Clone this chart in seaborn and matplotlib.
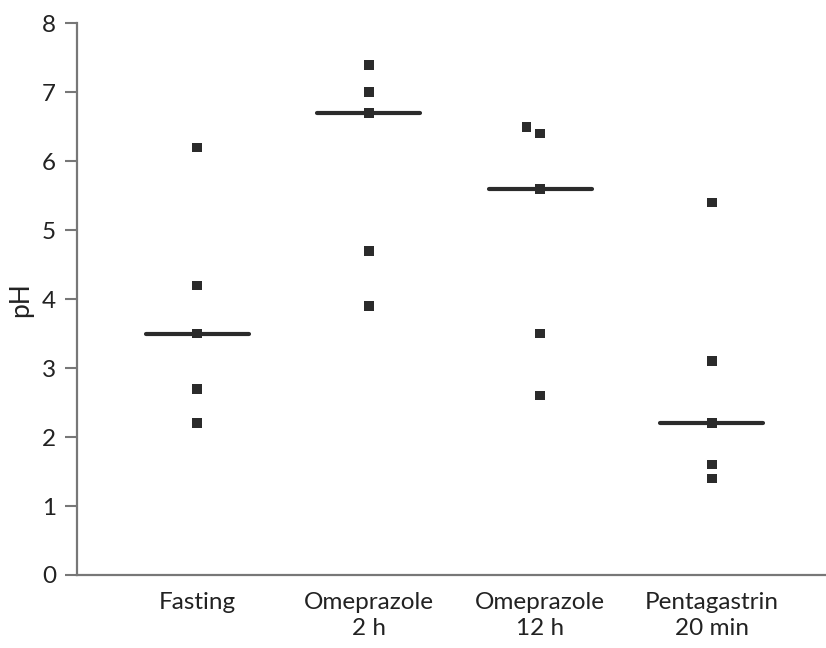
import numpy as np
import pandas as pd
import matplotlib
matplotlib.use("Agg")
import matplotlib.pyplot as plt
import seaborn as sns

# Gastric pH per condition
groups = ["Fasting", "Omeprazole\n2 h", "Omeprazole\n12 h", "Pentagastrin\n20 min"]
fasting = [6.2, 4.2, 3.5, 2.7, 2.2]
omeprazole_2h = [7.4, 7.0, 6.7, 4.7, 3.9]
omeprazole_12h = [6.5, 6.4, 5.6, 3.5, 2.6]
pentagastrin_20min = [5.4, 3.1, 2.2, 1.6, 1.4]
# horizontal nudge (in category widths) for overlapping points
nudge_12h = [-0.08, 0, 0, 0, 0]
y_ticks = [0, 1, 2, 3, 4, 5, 6, 7, 8]

series = [fasting, omeprazole_2h, omeprazole_12h, pentagastrin_20min]
nudges = [[0] * 5, [0] * 5, nudge_12h, [0] * 5]

rows = []
for i, (g, vals, nd) in enumerate(zip(groups, series, nudges)):
    for v, d in zip(vals, nd):
        rows.append({"group": g, "pos": i + d, "pH": v})
df = pd.DataFrame(rows)

sns.set_theme(style="ticks")
plt.rcParams["font.family"] = ["Lato", "DejaVu Sans"]

ink = "#2b2b2b"
text_c = "#222222"
spine_c = "#777777"

fig = plt.figure(figsize=(8.26, 6.48), dpi=100)
ax = fig.add_axes([0.0929, 0.1127, 0.9071, 0.8513])

sns.scatterplot(data=df, x="pos", y="pH", marker="s", s=48, color=ink,
                edgecolor="none", ax=ax, zorder=3, legend=False)

medians = [np.median(v) for v in series]
ax.hlines(medians, np.arange(len(groups)) - 0.30, np.arange(len(groups)) + 0.30,
          color=ink, linewidth=3.0, capstyle="round", zorder=2)

ax.set_xlim(-0.703, 3.666)
ax.set_ylim(0, 8)
ax.set_yticks(y_ticks)
ax.set_xticks(range(len(groups)))
ax.set_xticklabels(groups, fontsize=17.5, color=text_c, linespacing=1.32)
ax.set_yticklabels([str(t) for t in y_ticks], fontsize=17.5, color=text_c)
ax.set_xlabel("")
ax.set_ylabel("pH", fontsize=19, color=text_c, labelpad=6)

ax.tick_params(axis="x", length=0, pad=12)
ax.tick_params(axis="y", length=9, width=1.5, color=spine_c, pad=6)
for side in ("top", "right"):
    ax.spines[side].set_visible(False)
for side in ("left", "bottom"):
    ax.spines[side].set_color(spine_c)
    ax.spines[side].set_linewidth(1.6)
ax.spines["bottom"].set_zorder(1)

fig.savefig("out.png", dpi=100, facecolor="white")
